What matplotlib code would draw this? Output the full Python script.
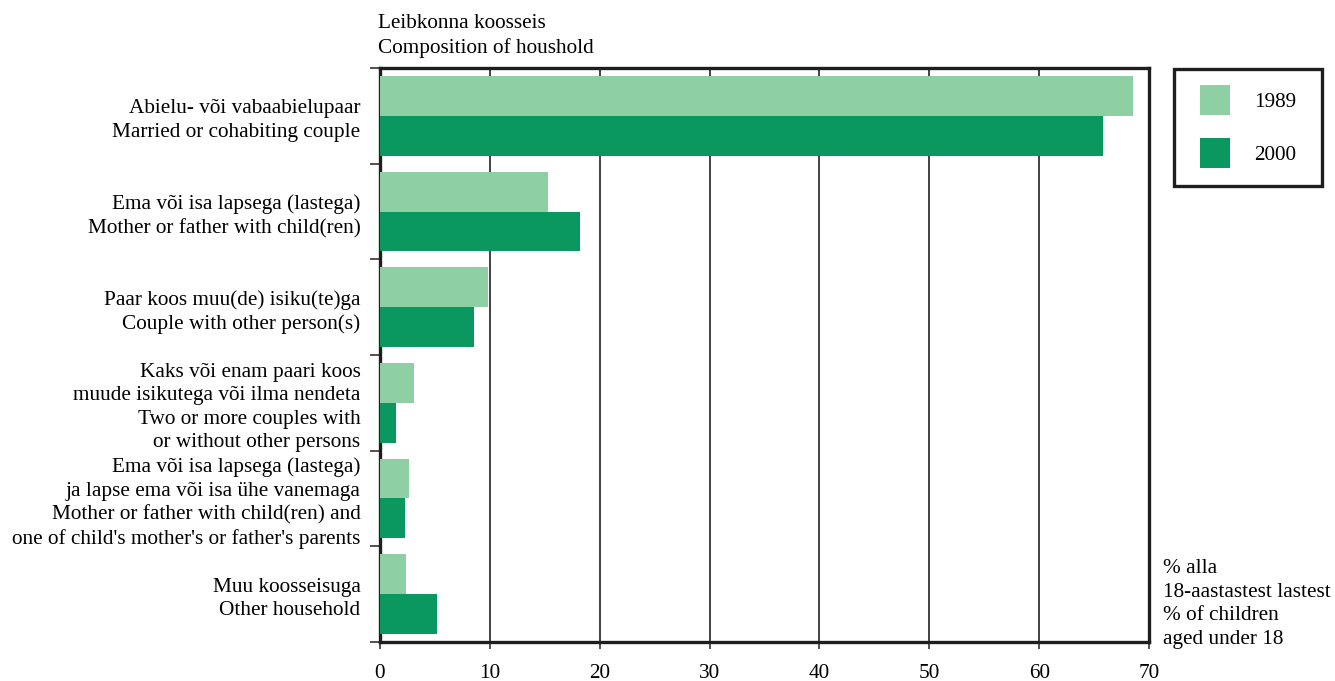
import matplotlib
matplotlib.use("Agg")
import matplotlib.pyplot as plt
from matplotlib.patches import Rectangle

plt.rcParams['font.family'] = ['Liberation Serif', 'DejaVu Serif']

categories = [
    "Abielu- või vabaabielupaar\nMarried or cohabiting couple",
    "Ema või isa lapsega (lastega)\nMother or father with child(ren)",
    "Paar koos muu(de) isiku(te)ga\nCouple with other person(s)",
    "Kaks või enam paari koos\nmuude isikutega või ilma nendeta\nTwo or more couples with\nor without other persons",
    "Ema või isa lapsega (lastega)\nja lapse ema või isa ühe vanemaga\nMother or father with child(ren) and\none of child's mother's or father's parents",
    "Muu koosseisuga\nOther household",
]
values_1989 = [68.5, 15.3, 9.8, 3.1, 2.6, 2.4]
values_2000 = [65.8, 18.2, 8.6, 1.5, 2.3, 5.2]
series_labels = ["1989", "2000"]
xticks = [0, 10, 20, 30, 40, 50, 60, 70]

c_light = "#8ECFA4"
c_dark = "#0A9760"
edge = "#1e1e1e"
FS = 15.3
LS = 1.31

W, H = 1335, 681
fig = plt.figure(figsize=(W/100, H/100), dpi=100)
ax = fig.add_axes([380/W, 1-642/H, (1149-380)/W, (642-68)/H])

n = len(categories)
pos = list(range(n))
h = 40/96
ax.barh([p - h/2 for p in pos], values_1989, height=h, color=c_light, zorder=3)
ax.barh([p + h/2 for p in pos], values_2000, height=h, color=c_dark, zorder=3)

ax.set_xlim(0, 70)
ax.set_ylim(n - 0.5, -0.5)
ax.set_xticks(xticks)
ax.set_xticklabels([str(x) for x in xticks], fontsize=FS)
ax.tick_params(axis='x', length=5, width=1.2, color='#333333', pad=10.5)
ax.xaxis.grid(True, color='#333333', linewidth=1.3, zorder=1)

ax.set_yticks(pos)
ax.set_yticklabels(categories, fontsize=FS, linespacing=LS)
ax.tick_params(axis='y', which='major', length=0, pad=14)
ax.set_yticks([p - 0.5 for p in range(n + 1)], minor=True)
ax.tick_params(axis='y', which='minor', length=7, width=1.2, color='#333333')

for s in ax.spines.values():
    s.set_linewidth(2.4)
    s.set_color(edge)

fig.text(378/W, 1-23/H, "Leibkonna koosseis", fontsize=FS, va='center', ha='left')
fig.text(378/W, 1-48/H, "Composition of houshold", fontsize=FS, va='center', ha='left')

fig.text(1163/W, 1-604/H, "% alla\n18-aastastest lastest\n% of children\naged under 18",
         fontsize=FS, va='center', ha='left', linespacing=LS)

# legend box
fig.patches.append(Rectangle((1174/W, 1-186/H), (1322-1174)/W, (186-69)/H,
                             transform=fig.transFigure, fill=False,
                             edgecolor=edge, linewidth=2.4))
for lab, col, yc in zip(series_labels, [c_light, c_dark], [100, 153]):
    fig.patches.append(Rectangle((1200/W, 1-(yc+15)/H), 30/W, 30/H,
                                 transform=fig.transFigure, facecolor=col, edgecolor='none'))
    fig.text(1254/W, 1-(yc+2.5)/H, lab, fontsize=FS, va='center', ha='left')

fig.savefig("out.png", dpi=100)
